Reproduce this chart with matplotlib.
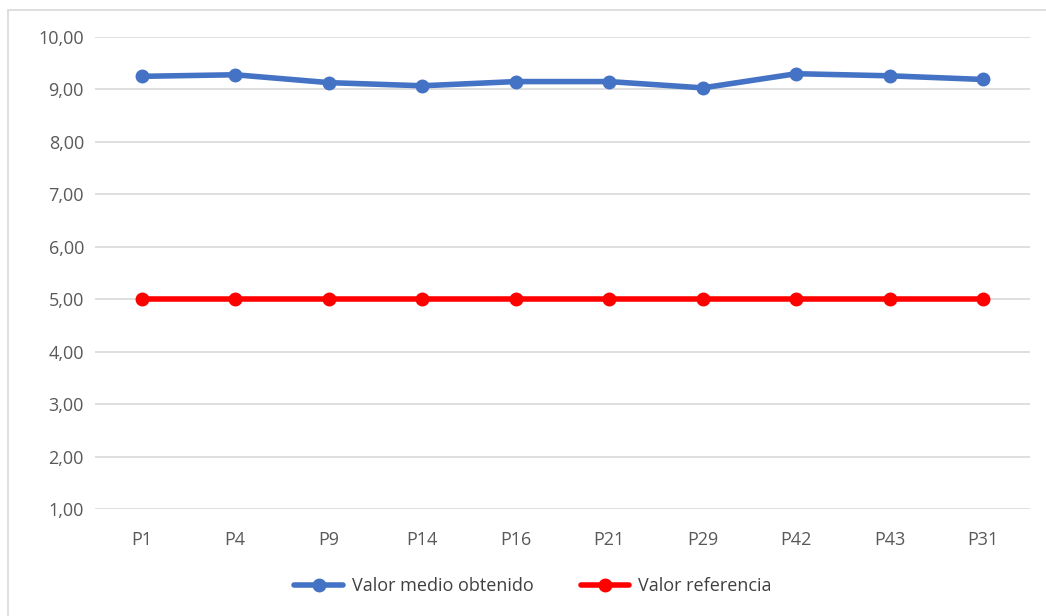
import matplotlib.pyplot as plt
from matplotlib.patches import Rectangle

puntos = ['P1', 'P4', 'P9', 'P14', 'P16', 'P21', 'P29', 'P42', 'P43', 'P31']
valor_medio = [9.25, 9.28, 9.13, 9.07, 9.15, 9.15, 9.03, 9.30, 9.26, 9.19]
valor_ref = [5.00, 5.00, 5.00, 5.00, 5.00, 5.00, 5.00, 5.00, 5.00, 5.00]

plt.rcParams['font.family'] = ['Open Sans', 'DejaVu Sans']

fig = plt.figure(figsize=(10.46, 6.16), dpi=100)
# marco gris alrededor del grafico
fig.patches.append(Rectangle((8 / 1046, -0.01), 1.02, 1 - 10 / 616 + 0.01,
                             transform=fig.transFigure, fill=False,
                             edgecolor='#d9d9d9', linewidth=1.2))

ax = fig.add_axes([95 / 1046, 1 - 509 / 616, 935 / 1046, 472 / 616])
x = range(len(puntos))
ax.plot(x, valor_medio, color='#4472c4', lw=4, marker='o', ms=9,
        label='Valor medio obtenido', solid_capstyle='round')
ax.plot(x, valor_ref, color='#ff0000', lw=4, marker='o', ms=9,
        label='Valor referencia', solid_capstyle='round')

ax.set_xlim(-0.5, len(puntos) - 0.5)
ax.set_ylim(1, 10)
ax.set_yticks(range(1, 11))
ax.set_yticklabels([f'{v},00' for v in range(1, 11)])
ax.set_xticks(list(x))
ax.set_xticklabels(puntos)
ax.grid(axis='y', color='#d9d9d9', lw=1.2)
ax.set_axisbelow(True)
for s in ax.spines.values():
    s.set_visible(False)
ax.tick_params(length=0, colors='#595959', labelsize=13)
ax.tick_params(axis='x', pad=16)
ax.tick_params(axis='y', pad=8)

fig.legend(loc='center', bbox_to_anchor=(533 / 1046, 1 - 586 / 616), ncol=2,
           frameon=False, fontsize=13, labelcolor='#404040',
           handlelength=2.7, handletextpad=0.5, columnspacing=2.6)

fig.savefig('out.png')
